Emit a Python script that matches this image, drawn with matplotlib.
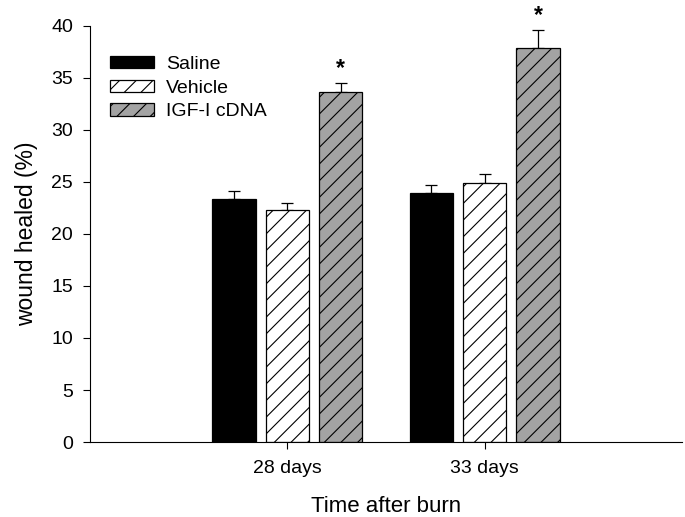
import numpy as np
import matplotlib
matplotlib.use('Agg')
import matplotlib.pyplot as plt

plt.rcParams['font.family'] = ['Liberation Sans', 'DejaVu Sans']
plt.rcParams['hatch.linewidth'] = 0.8

# datos
grupos = ['28 days', '33 days']
series = ['Saline', 'Vehicle', 'IGF-I cDNA']
valores = {
    'Saline': [23.4, 23.9],
    'Vehicle': [22.3, 24.9],
    'IGF-I cDNA': [33.6, 37.9],
}
errores = {
    'Saline': [0.7, 0.8],
    'Vehicle': [0.7, 0.9],
    'IGF-I cDNA': [0.9, 1.7],
}
significativo = {'IGF-I cDNA': [True, True]}

estilos = {
    'Saline': dict(color='black', hatch=None),
    'Vehicle': dict(color='white', hatch='//'),
    'IGF-I cDNA': dict(color='#a3a3a3', hatch='//'),
}

fig = plt.figure(figsize=(6.85, 5.17), dpi=100)
ax = fig.add_axes([0.131, 0.145, 0.865, 0.805])

x = np.arange(len(grupos))
ancho = 0.22
paso = 0.27

for i, nombre in enumerate(series):
    pos = x + (i - 1) * paso
    ax.bar(pos, valores[nombre], width=ancho, color=estilos[nombre]['color'],
           edgecolor='black', linewidth=0.9, hatch=estilos[nombre]['hatch'],
           label=nombre, zorder=2)
    ax.errorbar(pos, valores[nombre], yerr=[np.zeros(len(pos)), errores[nombre]],
                fmt='none', ecolor='black', elinewidth=0.9, capsize=4.3,
                capthick=0.9, zorder=1)
    if nombre in significativo:
        for p, v, e, s in zip(pos, valores[nombre], errores[nombre], significativo[nombre]):
            if s:
                ax.text(p, v + e + 0.8, '*', ha='center', va='baseline',
                        fontsize=16.5, fontweight='bold', clip_on=False)

ax.set_xlim(-1.0, 2.0)
ax.set_ylim(0, 40)
ax.set_yticks(np.arange(0, 41, 5))
ax.set_xticks(x)
ax.set_xticklabels(grupos, fontsize=14)
ax.tick_params(axis='y', labelsize=14, direction='out', length=5, width=0.8, pad=7)
ax.tick_params(axis='x', direction='out', length=5, width=0.8, pad=8)
ax.spines['top'].set_visible(False)
ax.spines['right'].set_visible(False)
ax.spines['left'].set_linewidth(0.8)
ax.spines['bottom'].set_linewidth(0.8)

ax.set_ylabel('wound healed (%)', fontsize=16.5)
ax.yaxis.set_label_coords(-0.087, 0.5)
ax.set_xlabel('Time after burn', fontsize=16)
ax.xaxis.set_label_coords(0.5, -0.13)

ax.legend(loc='upper left', bbox_to_anchor=(0.034, 0.928), frameon=False,
          fontsize=14, handlelength=2.27, handleheight=0.62, labelspacing=0.34,
          handletextpad=0.6, borderaxespad=0, borderpad=0)

fig.savefig('out.png', dpi=100)
